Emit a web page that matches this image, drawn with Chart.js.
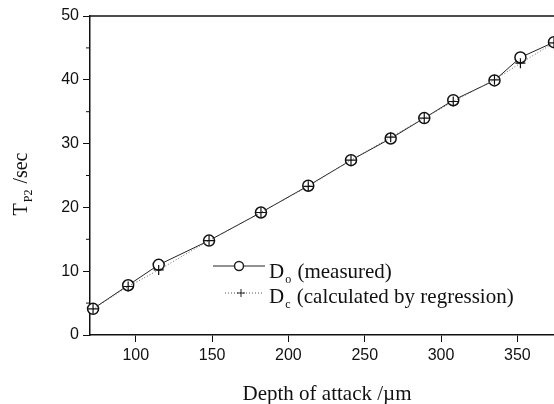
<!DOCTYPE html>
<html lang="en">
<head>
    <meta charset="UTF-8">
    <title>Depth of attack</title>
    <script src="https://cdn.jsdelivr.net/npm/chart.js@4.4.1/dist/chart.umd.min.js"></script>
    <style>
        body { margin: 0; background: #fff; }
        canvas { display: block; }
    </style>
</head>
<body>
    <canvas id="chart" width="554" height="404"></canvas>
    <script>
        // depth of attack (um)
        var depths = [72, 95, 115, 148, 182, 213, 241, 267, 289, 308, 335, 352, 374];
        // T_P2 in seconds
        var measured = [4.1, 7.8, 11.0, 14.8, 19.2, 23.4, 27.4, 30.8, 34.0, 36.8, 39.9, 43.5, 45.9];
        var calculated = [4.1, 7.6, 10.2, 14.8, 19.2, 23.3, 27.4, 31.0, 34.0, 36.6, 40.0, 42.6, 45.8];
        var xTicks = [100, 150, 200, 250, 300, 350];
        var yTicks = [0, 10, 20, 30, 40, 50];
        var yMinor = [5, 15, 25, 35, 45];

        var ink = '#111';
        var serif = '"Liberation Serif", "Times New Roman", serif';
        var sans = '"Liberation Sans", Arial, sans-serif';

        function pairs(xs, ys) {
            return xs.map(function (x, i) { return { x: x, y: ys[i] }; });
        }

        // draws "main" + subscript + rest
        function subText(ctx, x, y, main, sub, rest, size, subSize) {
            ctx.font = size + 'px ' + serif;
            ctx.fillText(main, x, y);
            var w = ctx.measureText(main).width;
            ctx.font = subSize + 'px ' + serif;
            ctx.fillText(sub, x + w + 1, y + size * 0.25);
            var w2 = ctx.measureText(sub).width;
            ctx.font = size + 'px ' + serif;
            ctx.fillText(rest, x + w + w2 + 2, y);
        }

        var decor = {
            id: 'decor',
            afterDraw: function (chart) {
                var ctx = chart.ctx;
                var a = chart.chartArea;
                var ys = chart.scales.y;
                ctx.save();
                ctx.strokeStyle = ink;
                ctx.fillStyle = ink;

                // top frame line
                ctx.lineWidth = 1.5;
                ctx.beginPath();
                ctx.moveTo(a.left, a.top);
                ctx.lineTo(a.right, a.top);
                ctx.stroke();

                // minor y ticks
                ctx.lineWidth = 1;
                yMinor.forEach(function (v) {
                    var p = ys.getPixelForValue(v);
                    ctx.beginPath();
                    ctx.moveTo(a.left - 4, p);
                    ctx.lineTo(a.left, p);
                    ctx.stroke();
                });

                // x title
                ctx.textAlign = 'center';
                ctx.textBaseline = 'alphabetic';
                ctx.font = '21px ' + serif;
                ctx.fillText('Depth of attack /\u00b5m', 327, 400);

                // y title, rotated, with subscript
                ctx.save();
                ctx.translate(27, 185);
                ctx.rotate(-Math.PI / 2);
                ctx.textAlign = 'left';
                ctx.font = '20px ' + serif;
                var total = ctx.measureText('T').width + ctx.measureText(' /sec').width;
                ctx.font = '12px ' + serif;
                total += ctx.measureText('P2').width;
                subText(ctx, -total / 2, 0, 'T', 'P2', ' /sec', 20, 12);
                ctx.restore();

                // legend
                ctx.textAlign = 'left';
                ctx.lineWidth = 1;
                ctx.strokeStyle = '#222';
                ctx.beginPath();
                ctx.moveTo(213, 266);
                ctx.lineTo(234, 266);
                ctx.moveTo(244, 266);
                ctx.lineTo(265, 266);
                ctx.stroke();
                ctx.lineWidth = 1.5;
                ctx.beginPath();
                ctx.arc(239, 266, 4.5, 0, Math.PI * 2);
                ctx.stroke();
                subText(ctx, 269, 278, 'D', 'o', ' (measured)', 21, 12);

                ctx.lineWidth = 1;
                ctx.strokeStyle = '#555';
                ctx.setLineDash([1, 2]);
                ctx.beginPath();
                ctx.moveTo(225, 293);
                ctx.lineTo(263, 293);
                ctx.stroke();
                ctx.setLineDash([]);
                ctx.strokeStyle = '#222';
                ctx.beginPath();
                ctx.moveTo(237, 293);
                ctx.lineTo(245, 293);
                ctx.moveTo(241, 289);
                ctx.lineTo(241, 297);
                ctx.stroke();
                subText(ctx, 269, 303, 'D', 'c', ' (calculated by regression)', 21, 12);

                ctx.restore();
            }
        };

        var ctx = document.getElementById('chart').getContext('2d');
        var myChart = new Chart(ctx, {
            type: 'line',
            data: {
                datasets: [{
                    label: 'Do (measured)',
                    data: pairs(depths, measured),
                    borderColor: '#222',
                    borderWidth: 1,
                    pointStyle: 'circle',
                    pointRadius: 5.5,
                    pointBorderWidth: 1.5,
                    pointBorderColor: ink,
                    pointBackgroundColor: '#fff',
                    tension: 0,
                    clip: false,
                    order: 2
                }, {
                    label: 'Dc (calculated by regression)',
                    data: pairs(depths, calculated),
                    borderColor: '#666',
                    borderWidth: 1,
                    borderDash: [1, 2],
                    pointStyle: 'cross',
                    pointRadius: 5,
                    pointBorderWidth: 1.2,
                    pointBorderColor: ink,
                    pointBackgroundColor: ink,
                    tension: 0,
                    clip: false,
                    order: 1
                }]
            },
            options: {
                responsive: false,
                animation: false,
                events: [],
                layout: {
                    autoPadding: false,
                    padding: { top: 16, right: 0, left: 0, bottom: 0 }
                },
                plugins: {
                    legend: { display: false },
                    tooltip: { enabled: false }
                },
                scales: {
                    x: {
                        type: 'linear',
                        min: 70,
                        max: 374,
                        afterBuildTicks: function (s) {
                            s.ticks = xTicks.map(function (v) { return { value: v }; });
                        },
                        afterFit: function (s) {
                            s.height = 69;
                            s.paddingRight = 0;
                            s.paddingLeft = 0;
                        },
                        grid: { drawOnChartArea: false, tickLength: 7, tickColor: ink, tickWidth: 1 },
                        border: { color: ink, width: 1.5 },
                        ticks: {
                            padding: 4,
                            color: ink,
                            maxRotation: 0,
                            font: { family: sans, size: 16 }
                        }
                    },
                    y: {
                        min: 0,
                        max: 50,
                        afterBuildTicks: function (s) {
                            s.ticks = yTicks.map(function (v) { return { value: v }; });
                        },
                        afterFit: function (s) { s.width = 90; },
                        grid: { drawOnChartArea: false, tickLength: 7, tickColor: ink, tickWidth: 1 },
                        border: { color: ink, width: 1.5 },
                        ticks: {
                            padding: 4,
                            color: ink,
                            font: { family: sans, size: 16 }
                        }
                    }
                }
            },
            plugins: [decor]
        });
    </script>
</body>
</html>
